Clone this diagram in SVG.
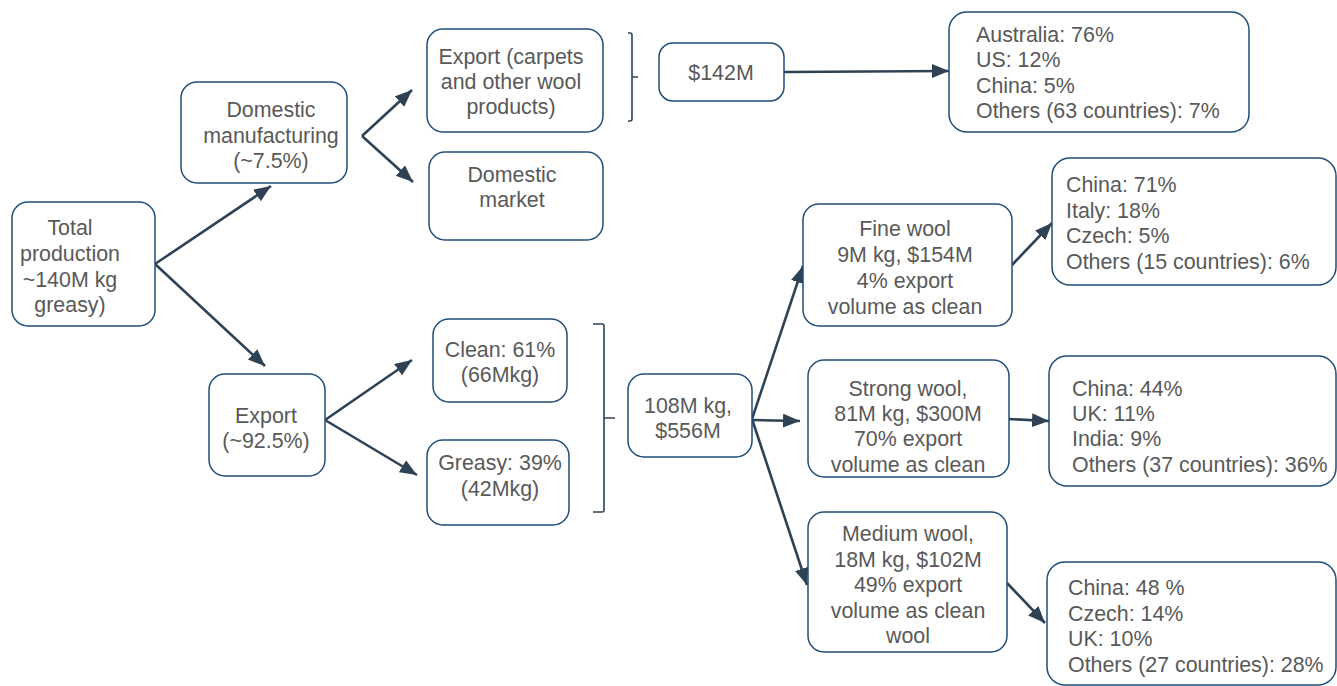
<svg xmlns="http://www.w3.org/2000/svg" width="1337" height="686" viewBox="0 0 1337 686">
<style>
.box{fill:#fff;stroke:#1F4E79;stroke-width:1.5}
.t{font-family:"Liberation Sans",Arial,sans-serif;font-size:21.4px;fill:#595959}
.c{text-anchor:middle}
.conn{stroke:#2F4254;stroke-width:2.6;fill:none}
.br{stroke:#2F4254;stroke-width:1.6;fill:none}
</style>
<defs>
<marker id="ah" markerUnits="userSpaceOnUse" markerWidth="19" markerHeight="15" refX="17" refY="7" orient="auto">
<path d="M0,0 L17,7 L0,14 z" fill="#2F4254"/>
</marker>
</defs>
<rect width="1337" height="686" fill="#fff"/>
<g id="connectors">
<path class="conn" marker-end="url(#ah)" d="M155,264 L271,186"/>
<path class="conn" marker-end="url(#ah)" d="M155,264 L265,366"/>
<path class="conn" marker-end="url(#ah)" d="M362,136 L412,90"/>
<path class="conn" marker-end="url(#ah)" d="M362,136 L413,182"/>
<path class="conn" marker-end="url(#ah)" d="M784,72 L949,71"/>
<path class="conn" marker-end="url(#ah)" d="M325,420 L412,360"/>
<path class="conn" marker-end="url(#ah)" d="M325,420 L417,475"/>
<path class="conn" marker-end="url(#ah)" d="M752,419 L803,266"/>
<path class="conn" marker-end="url(#ah)" d="M752,420 L800,421"/>
<path class="conn" marker-end="url(#ah)" d="M752,419 L807,585"/>
<path class="conn" marker-end="url(#ah)" d="M1012,265 L1052,223"/>
<path class="conn" marker-end="url(#ah)" d="M1009,419 L1049,421"/>
<path class="conn" marker-end="url(#ah)" d="M1007,583 L1045,623"/>
<path class="br" d="M628,33 L630,33 Q632,33 632,35 L632,119 Q632,121 630,121 L628,121 M632,77 L638,77"/>
<path class="br" d="M593,324 L602,324 Q604,324 604,326 L604,510 Q604,512 602,512 L593,512 M604,418 L615,418"/>
</g>
<g id="total">
<rect class="box" x="12" y="202" width="143" height="124" rx="16"/>
<text class="t c"><tspan x="70" y="235">Total</tspan><tspan x="70" y="261">production</tspan><tspan x="70" y="287">~140M kg</tspan><tspan x="70" y="312">greasy)</tspan></text>
</g>
<g id="domestic-manufacturing">
<rect class="box" x="181" y="82" width="166" height="101" rx="16"/>
<text class="t c"><tspan x="271" y="117">Domestic</tspan><tspan x="271" y="143">manufacturing</tspan><tspan x="271" y="168">(~7.5%)</tspan></text>
</g>
<g id="export">
<rect class="box" x="209" y="374" width="116" height="102" rx="16"/>
<text class="t c"><tspan x="266" y="423">Export</tspan><tspan x="266" y="448">(~92.5%)</tspan></text>
</g>
<g id="export-carpets">
<rect class="box" x="427" y="29" width="176" height="103" rx="16"/>
<text class="t c"><tspan x="511" y="64">Export (carpets</tspan><tspan x="511" y="89">and other wool</tspan><tspan x="511" y="114">products)</tspan></text>
</g>
<g id="domestic-market">
<rect class="box" x="429" y="152" width="174" height="88" rx="16"/>
<text class="t c"><tspan x="512" y="182">Domestic</tspan><tspan x="512" y="207">market</tspan></text>
</g>
<g id="value-142m">
<rect class="box" x="659" y="43" width="125" height="58" rx="14"/>
<text class="t c" x="721" y="80">$142M</text>
</g>
<g id="carpet-destinations">
<rect class="box" x="949" y="12" width="300" height="120" rx="18"/>
<text class="t"><tspan x="976" y="42">Australia: 76%</tspan><tspan x="976" y="67">US: 12%</tspan><tspan x="976" y="93">China: 5%</tspan><tspan x="976" y="118">Others (63 countries): 7%</tspan></text>
</g>
<g id="clean">
<rect class="box" x="433" y="319" width="134" height="83" rx="16"/>
<text class="t c"><tspan x="500" y="357">Clean: 61%</tspan><tspan x="500" y="382">(66Mkg)</tspan></text>
</g>
<g id="greasy">
<rect class="box" x="427" y="440" width="142" height="85" rx="16"/>
<text class="t c"><tspan x="500" y="470">Greasy: 39%</tspan><tspan x="500" y="496">(42Mkg)</tspan></text>
</g>
<g id="export-total">
<rect class="box" x="628" y="374" width="124" height="83" rx="16"/>
<text class="t c"><tspan x="688" y="413">108M kg,</tspan><tspan x="688" y="438">$556M</tspan></text>
</g>
<g id="fine-wool">
<rect class="box" x="803" y="204" width="209" height="122" rx="16"/>
<text class="t c"><tspan x="905" y="236">Fine wool</tspan><tspan x="905" y="262">9M kg, $154M</tspan><tspan x="905" y="288">4% export</tspan><tspan x="905" y="314">volume as clean</tspan></text>
</g>
<g id="strong-wool">
<rect class="box" x="808" y="360" width="201" height="117" rx="16"/>
<text class="t c"><tspan x="908" y="396">Strong wool,</tspan><tspan x="908" y="421">81M kg, $300M</tspan><tspan x="908" y="446">70% export</tspan><tspan x="908" y="472">volume as clean</tspan></text>
</g>
<g id="medium-wool">
<rect class="box" x="808" y="512" width="199" height="140" rx="16"/>
<text class="t c"><tspan x="908" y="541">Medium wool,</tspan><tspan x="908" y="567">18M kg, $102M</tspan><tspan x="908" y="592">49% export</tspan><tspan x="908" y="618">volume as clean</tspan><tspan x="908" y="643">wool</tspan></text>
</g>
<g id="fine-destinations">
<rect class="box" x="1052" y="158" width="284" height="127" rx="18"/>
<text class="t"><tspan x="1066" y="192">China: 71%</tspan><tspan x="1066" y="218">Italy: 18%</tspan><tspan x="1066" y="243">Czech: 5%</tspan><tspan x="1066" y="269">Others (15 countries): 6%</tspan></text>
</g>
<g id="strong-destinations">
<rect class="box" x="1049" y="356" width="287" height="130" rx="18"/>
<text class="t"><tspan x="1072" y="396">China: 44%</tspan><tspan x="1072" y="421">UK: 11%</tspan><tspan x="1072" y="446">India: 9%</tspan><tspan x="1072" y="472">Others (37 countries): 36%</tspan></text>
</g>
<g id="medium-destinations">
<rect class="box" x="1047" y="562" width="289" height="123" rx="18"/>
<text class="t"><tspan x="1068" y="595">China: 48 %</tspan><tspan x="1068" y="621">Czech: 14%</tspan><tspan x="1068" y="646">UK: 10%</tspan><tspan x="1068" y="672">Others (27 countries): 28%</tspan></text>
</g>
</svg>
